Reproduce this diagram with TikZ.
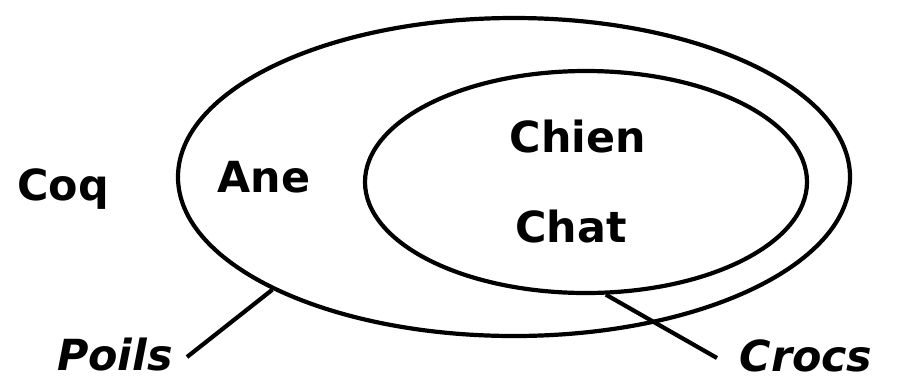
\documentclass[tikz,border=0pt]{standalone}
\usepackage{fontspec}
\setmainfont{DejaVu Sans}
\usetikzlibrary{shapes.geometric}
\begin{document}
\begin{tikzpicture}[x=1bp,y=-1bp,
  set/.style={draw, ellipse, line width=4.2bp, inner sep=0pt},
  lbl/.style={font=\fontsize{43}{50}\selectfont\bfseries, inner sep=0pt, anchor=base},
  ilbl/.style={font=\fontsize{43}{50}\selectfont\bfseries\itshape, inner sep=0pt, anchor=base},
  conn/.style={line width=4.2bp}]
\useasboundingbox (0,0) rectangle (897,378);
\node[set, minimum width=672bp, minimum height=318bp] (outer) at (514,177) {};
\node[set, minimum width=442bp, minimum height=222bp] (inner) at (586,182) {};
\node[lbl] (coq) at (63,200) {Coq};
\node[lbl] (ane) at (264,192) {Ane};
\node[lbl] (chien) at (578,152) {Chien};
\node[lbl] (chat) at (571,242) {Chat};
\node[ilbl] (poils) at (115,370) {Poils};
\node[ilbl] (crocs) at (806,371) {Crocs};
\coordinate (pe) at (187,357);
\coordinate (ce) at (717,358);
\draw[conn] (pe) -- (outer.205.7);
\draw[conn] (inner.280) -- (ce);
\end{tikzpicture}
\end{document}
